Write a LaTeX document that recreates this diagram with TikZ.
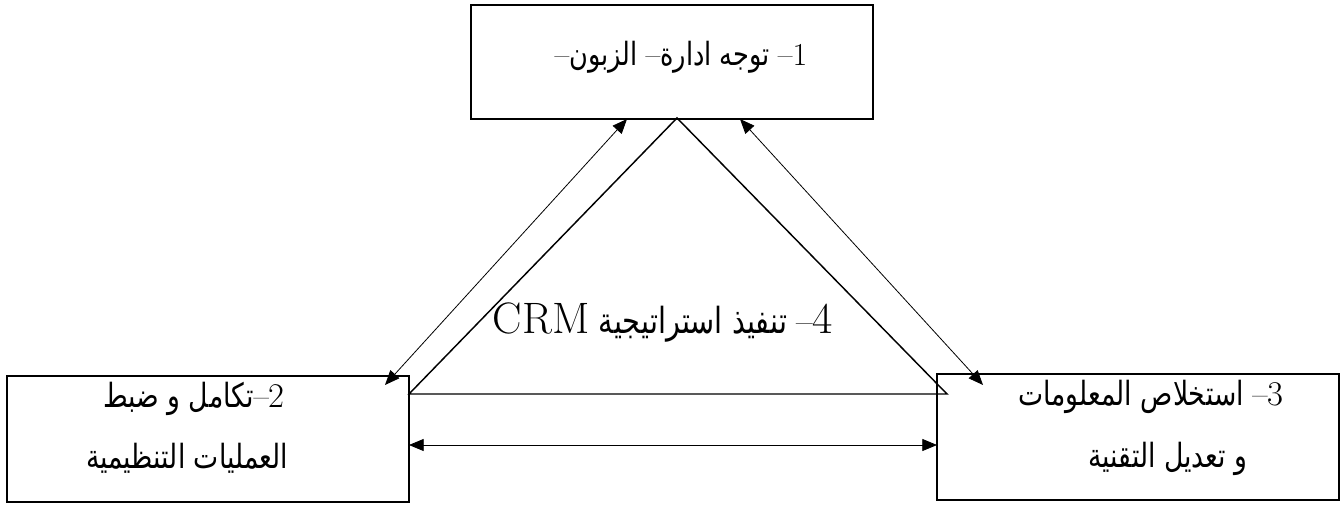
\documentclass[tikz,border=0pt]{standalone}
\usepackage{fontspec}
\usetikzlibrary{arrows.meta}
\TeXXeTstate=1
\newfontfamily\arabicfont[Script=Arabic,FakeStretch=0.8]{DejaVu Sans}
\newcommand{\dsh}{\kern0pt{\rmfamily –}\kern0pt}
\begin{document}
\begin{tikzpicture}[x=0.75pt,y=-0.75pt,
  box/.style={draw,line width=1.3pt,inner sep=0pt,minimum width=301.5pt,minimum height=94.5pt},
  tri/.style={line width=1.1pt,line join=miter},
  link/.style={line width=0.6pt,{Triangle[length=11pt,width=9pt]}-{Triangle[length=11pt,width=9pt]}},
  lbl/.style={inner sep=0pt,anchor=base}]
\useasboundingbox (0,0) rectangle (1341,504);
% boxes
\node[box,minimum height=85.5pt] (b1) at (672,62) {};
\node[box] (b2) at (208,439) {};
\node[box] (b3) at (1138,437) {};
% texts
\node[lbl] (t1) at (681,65) {\fontsize{24}{28}\selectfont\arabicfont\beginR{\rmfamily 1}\dsh{} توجه ادارة\dsh{} الزبون\dsh\endR};
\node[lbl] (t2a) at (194,407) {\fontsize{25}{28}\selectfont\arabicfont\beginR{\fontsize{26}{28}\selectfont\rmfamily 2}\dsh تكامل و ضبط\endR};
\node[lbl] (t2b) at (187,468) {\fontsize{25}{28}\selectfont\arabicfont\beginR العمليات التنظيمية\endR};
\node[lbl] (t3a) at (1151,405) {\fontsize{25}{28}\selectfont\arabicfont\beginR{\fontsize{26}{28}\selectfont\rmfamily 3}\dsh{} استخلاص المعلومات\endR};
\node[lbl] (t3b) at (1168,467) {\fontsize{25}{28}\selectfont\arabicfont\beginR و تعديل التقنية\endR};
\node[lbl] (t4) at (663,333) {\fontsize{27}{32}\selectfont\arabicfont\beginR{\fontsize{33}{38}\selectfont\rmfamily 4}\dsh{} تنفيذ استراتيجية \beginL{\fontsize{33}{38}\selectfont\rmfamily CRM}\endL\endR};
% triangle
\coordinate (apex) at (677,118);
\coordinate (tl) at (409,394);
\coordinate (tr) at (947,394);
\draw[tri] (apex) -- (tl) -- (tr) -- cycle;
% arrows
\coordinate (a1s) at (627,119);
\coordinate (a1e) at (385,385);
\coordinate (a2s) at (740,119);
\coordinate (a2e) at (983,385);
\coordinate (a3s) at (409,445);
\coordinate (a3e) at (937,445);
\draw[link] (a1s) -- (a1e);
\draw[link] (a2s) -- (a2e);
\draw[link] (a3s) -- (a3e);
\end{tikzpicture}
\end{document}
